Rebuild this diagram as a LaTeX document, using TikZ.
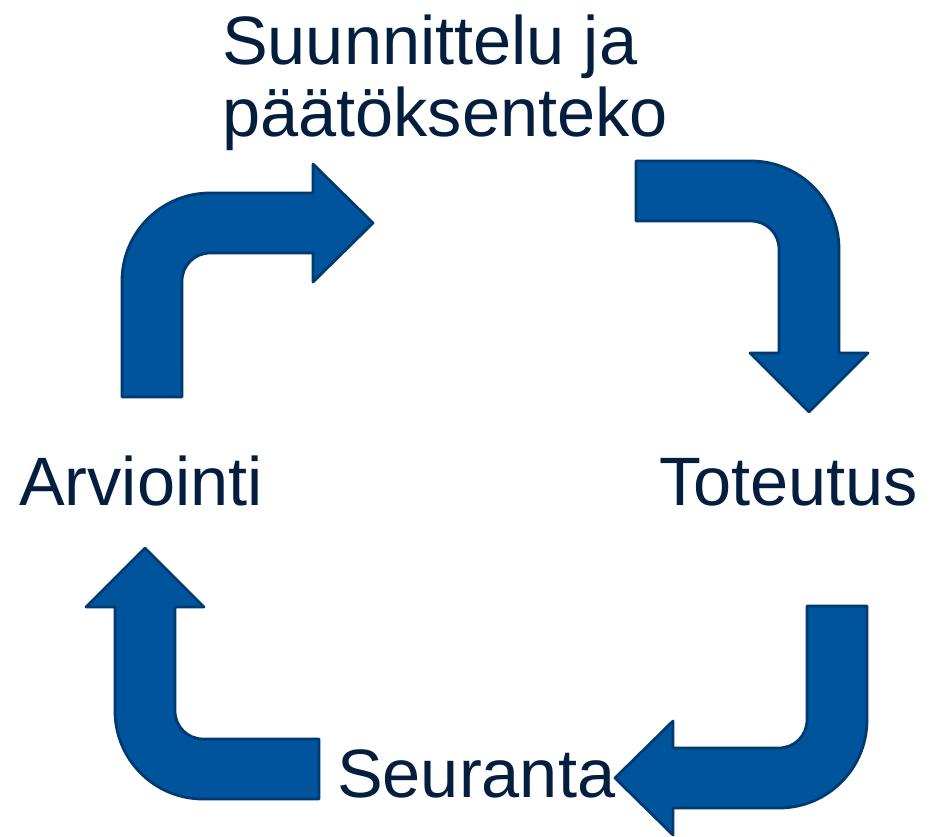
\documentclass[tikz,border=0pt]{standalone}
\usepackage{fontspec}
\setmainfont{Liberation Sans}
\definecolor{arrowfill}{RGB}{0,84,155}
\definecolor{arrowline}{RGB}{0,58,112}
\definecolor{labeltext}{RGB}{4,30,62}
\begin{document}
\begin{tikzpicture}[x=1pt,y=-1pt,
  blockarrow/.style={fill=arrowfill,draw=arrowline,line width=2.8pt,line join=round},
  lbl/.style={text=labeltext,inner sep=0pt,font=\fontsize{68.5}{72}\selectfont}]
\useasboundingbox (0,0) rectangle (936,837);
% labels
\node[lbl,anchor=base west] (plan) at (222,65) {Suunnittelu ja};
\node[lbl,anchor=base west] (plan2) at (222,137) {päätöksenteko};
\node[lbl,anchor=base west] (toteutus) at (659,505) {Toteutus};
\node[lbl,anchor=base west] (seuranta) at (337,797) {Seuranta};
\node[lbl,anchor=base west] (arviointi) at (19,505) {Arviointi};
% arrows
\draw[blockarrow] (122,397) -- (182,397) -- (182,281)
  arc[start angle=180,end angle=270,radius=28] -- (313,253) -- (313,282)
  -- (373,223) -- (313,164) -- (313,193) -- (210,193)
  arc[start angle=270,end angle=180,radius=88] -- cycle;
\draw[blockarrow] (636,161) -- (751,161)
  arc[start angle=270,end angle=360,radius=88] -- (839,353) -- (868,353)
  -- (809,412) -- (750,353) -- (779,353) -- (779,249)
  arc[start angle=0,end angle=-90,radius=28] -- (636,221) -- cycle;
\draw[blockarrow] (807,606) -- (867,606) -- (867,720)
  arc[start angle=0,end angle=90,radius=88] -- (673,808) -- (673,835)
  -- (615,778) -- (673,721) -- (673,748) -- (779,748)
  arc[start angle=90,end angle=0,radius=28] -- cycle;
\draw[blockarrow] (319,739) -- (203,739)
  arc[start angle=90,end angle=180,radius=28] -- (175,607) -- (204,607)
  -- (145,548) -- (86,607) -- (115,607) -- (115,711)
  arc[start angle=180,end angle=90,radius=88] -- (319,799) -- cycle;
\end{tikzpicture}
\end{document}
